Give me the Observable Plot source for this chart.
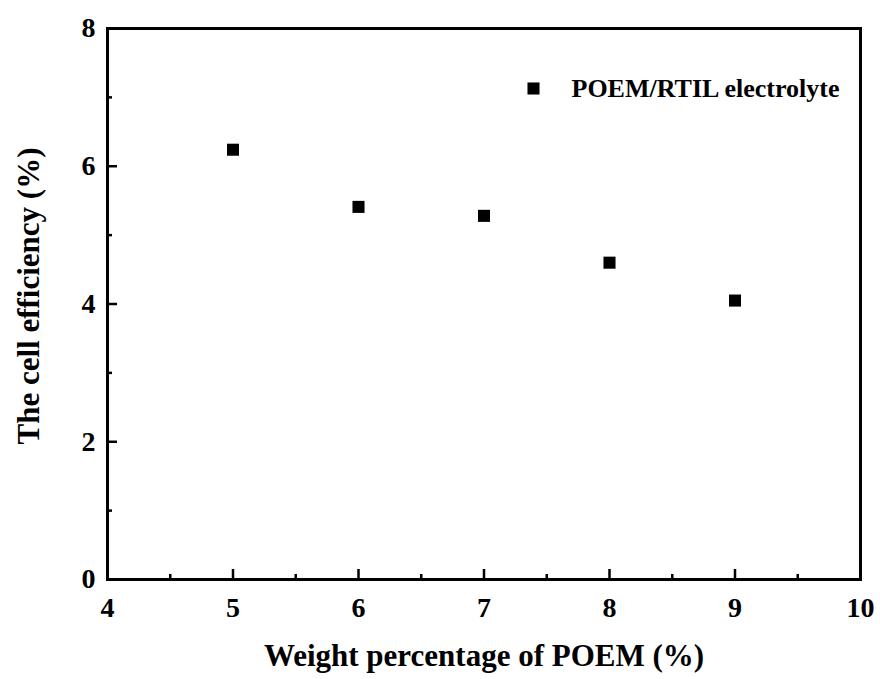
<!DOCTYPE html>
<html>
<head>
<meta charset="utf-8">
<script src="https://cdn.jsdelivr.net/npm/d3@7"></script>
<script src="https://cdn.jsdelivr.net/npm/@observablehq/plot@0.6"></script>
<style>
  html, body { margin: 0; padding: 0; background: #fff; }
</style>
</head>
<body>
<div id="chart"></div>
<script>
const weightPct = [5, 6, 7, 8, 9];
const efficiency = [6.24, 5.41, 5.28, 4.60, 4.05];
const seriesName = "POEM/RTIL electrolyte";
const xTickLabels = [4, 5, 6, 7, 8, 9, 10];
const yTickLabels = [0, 2, 4, 6, 8];
const xMinorTicks = [4.5, 5.5, 6.5, 7.5, 8.5, 9.5];
const yMinorTicks = [1, 3, 5, 7];
const xTitle = "Weight percentage of POEM (%)";
const yTitle = "The cell efficiency (%)";

const data = weightPct.map((x, i) => ({x, y: efficiency[i]}));
const font = "'Liberation Serif', 'Times New Roman', serif";

const chart = Plot.plot({
  width: 880,
  height: 679,
  marginLeft: 107,
  marginRight: 20,
  marginTop: 28,
  marginBottom: 100,
  style: {fontFamily: font, fontWeight: "bold", color: "black", background: "white"},
  x: {domain: [4, 10]},
  y: {domain: [0, 8]},
  marks: [
    Plot.axisX({ticks: xTickLabels, tickSize: 0, tickPadding: 18, fontSize: 28, label: null, tickFormat: d => String(d)}),
    Plot.axisY({ticks: yTickLabels, tickSize: 0, tickPadding: 12, fontSize: 28, label: null, tickFormat: d => String(d)}),
    // inward major ticks
    Plot.ruleX(xTickLabels.slice(1, -1), {x: d => d, y1: 0, y2: 0, insetTop: -10, stroke: "black", strokeWidth: 2.5}),
    Plot.ruleX(xMinorTicks, {x: d => d, y1: 0, y2: 0, insetTop: -5, stroke: "black", strokeWidth: 2.5}),
    Plot.ruleY(yTickLabels.slice(1, -1), {y: d => d, x1: 4, x2: 4, insetRight: -10, stroke: "black", strokeWidth: 2.5}),
    Plot.ruleY(yMinorTicks, {y: d => d, x1: 4, x2: 4, insetRight: -5, stroke: "black", strokeWidth: 2.5}),
    Plot.frame({stroke: "black", strokeWidth: 3}),
    Plot.dot(data, {x: "x", y: "y", symbol: "square", r: 6.8, fill: "black", stroke: "none"}),
    // legend
    Plot.dot([seriesName], {frameAnchor: "top-right", dx: -327, dy: 60, symbol: "square", r: 6.8, fill: "black", stroke: "none"}),
    Plot.text([seriesName], {frameAnchor: "top-right", dx: -289, dy: 60, textAnchor: "start", lineAnchor: "middle", fontSize: 26, fontWeight: "bold", fill: "black"}),
    // axis titles
    Plot.text([xTitle], {frameAnchor: "bottom", dy: 77, lineAnchor: "middle", fontSize: 31, fontWeight: "bold", fill: "black"}),
    Plot.text([yTitle], {frameAnchor: "left", dx: -78, dy: -8, rotate: -90, textAnchor: "middle", lineAnchor: "middle", fontSize: 31, fontWeight: "bold", fill: "black"})
  ]
});
document.getElementById("chart").appendChild(chart);
</script>
</body>
</html>
